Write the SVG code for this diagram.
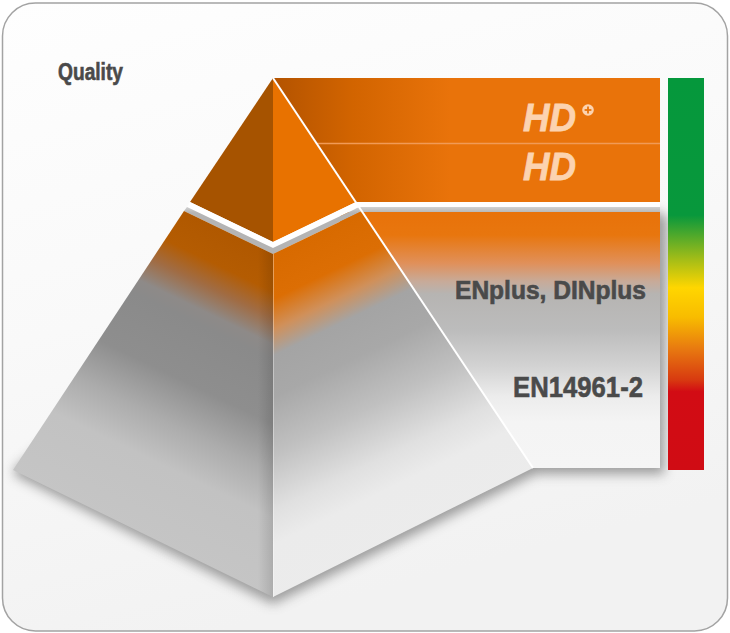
<svg xmlns="http://www.w3.org/2000/svg" width="730" height="633" viewBox="0 0 730 633">
  <style>
    .lbl { font-family: "Liberation Sans", Arial, sans-serif; font-weight: bold; fill: #4a4a4a; stroke: #4a4a4a; stroke-width: 0.6; }
    .hd { font-family: "Liberation Sans", Arial, sans-serif; font-weight: bold; font-style: italic; fill: #fcd3b0; stroke: #fcd3b0; stroke-width: 0.8; }
  </style>
  <defs>
    <linearGradient id="bgGrad" x1="0" y1="0" x2="0.3" y2="1">
      <stop offset="0" stop-color="#fefefe"/>
      <stop offset="0.5" stop-color="#f9f9f9"/>
      <stop offset="1" stop-color="#f2f2f2"/>
    </linearGradient>
    <linearGradient id="topBox" gradientUnits="userSpaceOnUse" x1="273" y1="0" x2="450" y2="0">
      <stop offset="0" stop-color="#b35300"/>
      <stop offset="0.45" stop-color="#d26400"/>
      <stop offset="1" stop-color="#e9730a"/>
    </linearGradient>
    <linearGradient id="lowBox" gradientUnits="userSpaceOnUse" x1="0" y1="212" x2="0" y2="468">
      <stop offset="0" stop-color="#e8720a"/>
      <stop offset="0.09" stop-color="#e8760e"/>
      <stop offset="0.2" stop-color="#e0905a"/>
      <stop offset="0.27" stop-color="#c8aa98"/>
      <stop offset="0.32" stop-color="#b6b4b2"/>
      <stop offset="0.46" stop-color="#bcbcbc"/>
      <stop offset="0.6" stop-color="#d2d2d2"/>
      <stop offset="0.72" stop-color="#ececec"/>
      <stop offset="0.82" stop-color="#f4f4f4"/>
      <stop offset="1" stop-color="#f5f5f5"/>
    </linearGradient>
    <linearGradient id="scale" gradientUnits="userSpaceOnUse" x1="0" y1="78" x2="0" y2="470">
      <stop offset="0" stop-color="#05983c"/>
      <stop offset="0.35" stop-color="#08983c"/>
      <stop offset="0.46" stop-color="#a0bc18"/>
      <stop offset="0.535" stop-color="#ffd600"/>
      <stop offset="0.61" stop-color="#f8bc00"/>
      <stop offset="0.69" stop-color="#e87a10"/>
      <stop offset="0.77" stop-color="#d83a10"/>
      <stop offset="0.8" stop-color="#d20c14"/>
      <stop offset="1" stop-color="#d00c14"/>
    </linearGradient>
    <linearGradient id="leftFace" gradientUnits="userSpaceOnUse" x1="273" y1="254" x2="125.4" y2="560.3">
      <stop offset="0" stop-color="#b05800"/>
      <stop offset="0.1" stop-color="#b45c02"/>
      <stop offset="0.17" stop-color="#a06c44"/>
      <stop offset="0.24" stop-color="#8e8a88"/>
      <stop offset="0.28" stop-color="#8a8a8a"/>
      <stop offset="0.45" stop-color="#8e8e8e"/>
      <stop offset="0.58" stop-color="#acacac"/>
      <stop offset="0.7" stop-color="#c2c2c2"/>
      <stop offset="1" stop-color="#c6c6c6"/>
    </linearGradient>
    <linearGradient id="rightFace" gradientUnits="userSpaceOnUse" x1="273" y1="254" x2="421" y2="560">
      <stop offset="0" stop-color="#d86a00"/>
      <stop offset="0.12" stop-color="#dc6e04"/>
      <stop offset="0.2" stop-color="#d0905a"/>
      <stop offset="0.27" stop-color="#a4a4a4"/>
      <stop offset="0.38" stop-color="#a8a8a8"/>
      <stop offset="0.53" stop-color="#c0c0c0"/>
      <stop offset="0.68" stop-color="#e0e0e0"/>
      <stop offset="0.77" stop-color="#ebebeb"/>
      <stop offset="1" stop-color="#ececec"/>
    </linearGradient>
    <linearGradient id="edgeShade" gradientUnits="userSpaceOnUse" x1="258" y1="0" x2="273" y2="0">
      <stop offset="0" stop-color="#000" stop-opacity="0"/>
      <stop offset="1" stop-color="#000" stop-opacity="0.12"/>
    </linearGradient>
    <linearGradient id="bandGray" gradientUnits="userSpaceOnUse" x1="0" y1="206" x2="0" y2="213">
      <stop offset="0" stop-color="#d6d6d6"/>
      <stop offset="1" stop-color="#b4b4b4"/>
    </linearGradient>
    <filter id="blur" x="-20%" y="-20%" width="140%" height="140%">
      <feGaussianBlur stdDeviation="6"/>
    </filter>
  </defs>

  <g id="background">
    <rect x="2.5" y="3" width="725" height="628" rx="33" ry="33" fill="url(#bgGrad)" stroke="#a3a3a3" stroke-width="1.5"/>
  </g>

  <g id="shadows" filter="url(#blur)" opacity="0.55">
    <polygon points="16,476 273,604 536,474 664,474 668,218 660,212 533,212 273,254 13,470" fill="#555"/>
  </g>

  <g id="box-top">
    <rect x="273" y="78" width="387" height="124" fill="url(#topBox)"/>
    <line x1="316" y1="143.5" x2="660" y2="143.5" stroke="#f19a56" stroke-width="1.5"/>
  </g>

  <g id="box-bottom">
    <rect x="340" y="212" width="320" height="256" fill="url(#lowBox)"/>
  </g>

  <g id="separator">
    <rect x="355" y="202" width="305" height="5" fill="#ffffff"/>
    <rect x="355" y="207" width="305" height="5" fill="url(#bandGray)"/>
  </g>

  <g id="scale-bar">
    <rect x="668" y="78" width="36" height="392" fill="url(#scale)"/>
  </g>

  <g id="pyramid-top">
    <polygon points="273,78 190,202 273,242" fill="#a65300"/>
    <polygon points="273,78 356,202 273,242" fill="#e87200"/>
  </g>

  <g id="pyramid-band">
    <polygon points="190,202 273,242 356,202 359.5,207 273,248 187,207" fill="#ffffff"/>
    <polygon points="187,207 273,248 359.5,207 362,211 273,254 184,211" fill="url(#bandGray)"/>
  </g>

  <g id="pyramid-bottom">
    <polygon points="184,211 273,254 273,597 13,470" fill="url(#leftFace)"/>
    <polygon points="184,211 273,254 273,597 13,470" fill="url(#edgeShade)"/>
    <polygon points="273,254 362,211 533,468 273,597" fill="url(#rightFace)"/>
    <line x1="273.5" y1="254" x2="273.5" y2="597" stroke="#ffffff" stroke-opacity="0.35" stroke-width="1"/>
  </g>

  <g id="edge-line">
    <line x1="273" y1="78" x2="533" y2="468" stroke="#ffffff" stroke-width="2"/>
  </g>

  <g id="labels">
    <text class="lbl" x="58" y="80" font-size="23" textLength="65" lengthAdjust="spacingAndGlyphs">Quality</text>
    <text class="hd" x="523" y="131" font-size="38" textLength="53" lengthAdjust="spacingAndGlyphs">HD</text>
    <g id="plus">
      <circle cx="588" cy="110" r="5.8" fill="#fcd3b0"/>
      <line x1="584.6" y1="110" x2="591.4" y2="110" stroke="#e8730a" stroke-width="1.8"/>
      <line x1="588" y1="106.6" x2="588" y2="113.4" stroke="#e8730a" stroke-width="1.8"/>
    </g>
    <text class="hd" x="523" y="180" font-size="38" textLength="53" lengthAdjust="spacingAndGlyphs">HD</text>
    <text class="lbl" x="455" y="299" font-size="25" textLength="191" lengthAdjust="spacingAndGlyphs">ENplus, DINplus</text>
    <text class="lbl" x="513" y="397" font-size="30" textLength="130" lengthAdjust="spacingAndGlyphs">EN14961-2</text>
  </g>
</svg>
